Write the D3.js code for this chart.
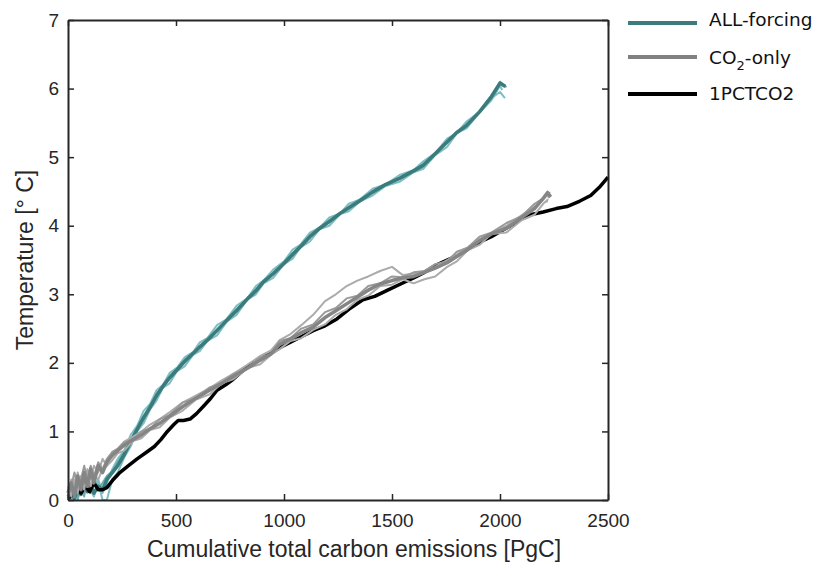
<!DOCTYPE html>
<html>
<head>
<meta charset="utf-8">
<script src="https://cdn.jsdelivr.net/npm/d3@7"></script>
<style>
  body { margin: 0; background: #fff; }
  text { font-family: "Liberation Sans", Arial, sans-serif; fill: #262626; }
  .legend text { font-family: "DejaVu Sans", sans-serif; fill: #111; }
</style>
</head>
<body>
<svg id="chart" width="817" height="563"></svg>
<script>
// ---- data ----
var xTicks = [0, 500, 1000, 1500, 2000, 2500];
var yTicks = [0, 1, 2, 3, 4, 5, 6, 7];

// ALL-forcing ensemble (cumulative emissions grid, PgC)
var allX = [0,15,30,45,60,75,90,105,120,140,160,180,205,230,260,290,320,350,380,410,440,470,505,540,580,610,645,690,735,780,830,870,905,950,1000,1040,1075,1120,1165,1210,1260,1300,1350,1410,1470,1535,1600,1645,1700,1755,1800,1845,1905,1960,2000];
var allMain = [0.05,0.12,0.02,0.18,0.08,0.25,0.12,0.22,0.1,0.2,0.15,0.3,0.4,0.5,0.66,0.85,1.03,1.2,1.35,1.52,1.66,1.78,1.9,2.02,2.14,2.23,2.33,2.47,2.62,2.76,2.93,3.05,3.18,3.3,3.45,3.58,3.69,3.84,3.96,4.06,4.18,4.26,4.36,4.49,4.6,4.69,4.8,4.88,5.05,5.22,5.36,5.46,5.66,5.88,6.08];
var allA = [0.0,0.2,0.1,0.3,0.15,0.35,0.2,0.4,0.2,0.3,0.1,0.25,0.45,0.6,0.72,0.95,1.08,1.3,1.4,1.6,1.68,1.85,1.93,2.08,2.16,2.3,2.36,2.55,2.64,2.83,2.94,3.12,3.2,3.36,3.48,3.65,3.72,3.9,3.97,4.12,4.18,4.32,4.38,4.54,4.6,4.74,4.81,4.94,5.06,5.27,5.35,5.52,5.66,5.86,5.95];
var allB = [0.1,0.0,0.15,0.05,0.28,0.1,0.3,0.15,0.05,0.25,0.0,0.0,0.3,0.4,0.62,0.78,1.0,1.12,1.32,1.45,1.64,1.7,1.88,1.95,2.12,2.17,2.32,2.4,2.6,2.7,2.92,3.0,3.16,3.24,3.44,3.52,3.68,3.77,3.95,4.0,4.17,4.21,4.35,4.44,4.58,4.64,4.78,4.83,5.03,5.15,5.35,5.42,5.65,5.83,6.04];
var allC = [0.0,0.08,0.22,0.0,0.2,0.05,0.35,0.1,0.3,0.15,0.25,0.35,0.42,0.55,0.7,0.88,1.05,1.22,1.38,1.55,1.68,1.8,1.92,2.04,2.15,2.25,2.35,2.49,2.63,2.78,2.94,3.07,3.2,3.31,3.47,3.6,3.71,3.86,3.98,4.08,4.19,4.28,4.38,4.5,4.61,4.7,4.81,4.9,5.06,5.23,5.37,5.48,5.67,5.9,6.1];
// last (hooked) point of each run: main, A, B, C
var allEndX = [2025, 2023, 2010, 2030];
var allEndT = [6.03, 5.86, 5.98, 6.02];

// CO2-only ensemble
var co2X = [0,15,30,45,60,75,90,105,120,140,160,180,205,230,260,300,340,380,425,470,530,590,655,710,765,830,890,940,980,1030,1080,1135,1190,1240,1290,1340,1390,1445,1500,1550,1600,1650,1700,1755,1800,1850,1905,1960,2030,2100,2160,2200,2220];
var co2Main = [0.1,0.25,0.05,0.35,0.15,0.4,0.2,0.45,0.25,0.5,0.4,0.55,0.65,0.72,0.8,0.88,0.95,1.04,1.12,1.22,1.36,1.48,1.6,1.7,1.8,1.92,2.04,2.13,2.27,2.35,2.44,2.52,2.66,2.76,2.86,2.96,3.06,3.15,3.2,3.24,3.26,3.32,3.38,3.46,3.55,3.65,3.78,3.88,3.96,4.12,4.25,4.4,4.48];
var co2A = [0.0,0.3,0.1,0.4,0.2,0.3,0.45,0.3,0.5,0.4,0.6,0.5,0.7,0.75,0.85,0.92,1.0,1.1,1.18,1.28,1.42,1.52,1.63,1.74,1.84,1.97,2.1,2.18,2.33,2.42,2.55,2.7,2.9,3.0,3.12,3.2,3.26,3.34,3.4,3.28,3.3,3.33,3.4,3.5,3.58,3.68,3.8,3.9,4.0,4.15,4.28,4.38,4.45];
var co2B = [0.2,0.05,0.3,0.1,0.35,0.15,0.4,0.2,0.35,0.3,0.45,0.5,0.58,0.68,0.72,0.86,0.9,1.02,1.06,1.2,1.3,1.46,1.54,1.7,1.76,1.92,1.98,2.12,2.2,2.32,2.36,2.48,2.56,2.7,2.78,2.92,2.98,3.12,3.14,3.22,3.16,3.22,3.26,3.4,3.48,3.64,3.72,3.88,3.9,4.08,4.16,4.32,4.38];
var co2C = [0.05,0.2,0.4,0.2,0.3,0.5,0.3,0.5,0.35,0.55,0.45,0.6,0.7,0.74,0.84,0.88,1.0,1.04,1.18,1.24,1.42,1.48,1.64,1.7,1.84,1.92,2.08,2.13,2.32,2.36,2.5,2.56,2.74,2.8,2.94,2.98,3.12,3.16,3.26,3.25,3.32,3.34,3.44,3.48,3.62,3.68,3.84,3.9,4.04,4.14,4.32,4.4,4.5];
var co2EndX = [2235, 2228, 2215, 2232];
var co2EndT = [4.42, 4.4, 4.34, 4.47];

// 1PCTCO2 run
var pctX = [0,20,40,60,80,100,120,140,160,180,210,240,280,320,365,400,430,460,490,510,535,565,595,625,660,690,730,765,800,830,860,890,930,980,1030,1080,1135,1190,1245,1300,1365,1420,1480,1540,1600,1650,1700,1755,1800,1850,1905,1960,2010,2060,2100,2140,2200,2260,2310,2370,2420,2460,2500];
var pctT = [0.02,0.08,0.15,0.1,0.2,0.12,0.25,0.15,0.15,0.18,0.3,0.4,0.5,0.6,0.7,0.78,0.88,1.0,1.1,1.16,1.16,1.18,1.26,1.36,1.48,1.6,1.68,1.76,1.86,1.94,2.0,2.08,2.12,2.22,2.3,2.38,2.47,2.54,2.64,2.78,2.92,2.97,3.06,3.15,3.24,3.32,3.42,3.5,3.56,3.66,3.76,3.84,3.93,4.02,4.1,4.16,4.2,4.25,4.28,4.36,4.44,4.56,4.71];

// ---- layout ----
var margin = {top: 20, right: 209, bottom: 63, left: 68},
    width = 817 - margin.left - margin.right,
    height = 563 - margin.top - margin.bottom;

var svg = d3.select("#chart")
    .append("g")
    .attr("transform", "translate(" + margin.left + "," + margin.top + ")");

var x = d3.scaleLinear().domain([0, 2500]).range([0, width]);
var y = d3.scaleLinear().domain([0, 7]).range([height, 0]);

var line = d3.line()
    .x(function(d) { return x(d[0]); })
    .y(function(d) { return y(d[1]); });

function run(xs, ts, endX, endT) {
    var pts = xs.map(function(v, i) { return [v, ts[i]]; });
    if (endX != null) pts.push([endX, endT]);
    return pts;
}

function draw(pts, color, w, op) {
    svg.append("path")
        .datum(pts)
        .attr("fill", "none")
        .attr("stroke", color)
        .attr("stroke-width", w)
        .attr("stroke-opacity", op)
        .attr("stroke-linejoin", "round")
        .attr("d", line);
}

var teal = "#3b7b7c", tealLight = "#6fb8bc";
var grey = "#858585", greyLight = "#ababab";

// ALL-forcing
draw(run(allX, allA, allEndX[1], allEndT[1]), tealLight, 2, 0.9);
draw(run(allX, allB, allEndX[2], allEndT[2]), tealLight, 2, 0.9);
draw(run(allX, allC, allEndX[3], allEndT[3]), "#5ea4a8", 2, 0.9);
draw(run(allX, allMain, allEndX[0], allEndT[0]), teal, 3.5, 1);

// 1PCTCO2
draw(run(pctX, pctT), "#000", 3.5, 1);

// CO2-only
draw(run(co2X, co2A, co2EndX[1], co2EndT[1]), greyLight, 2, 1);
draw(run(co2X, co2B, co2EndX[2], co2EndT[2]), greyLight, 2, 1);
draw(run(co2X, co2C, co2EndX[3], co2EndT[3]), "#9a9a9a", 2, 1);
draw(run(co2X, co2Main, co2EndX[0], co2EndT[0]), grey, 3.5, 1);

// ---- axes (MATLAB style box, ticks inward) ----
var axisColor = "#262626";
var fmt = d3.format("d");
var gx = svg.append("g")
    .attr("transform", "translate(0," + height + ")")
    .call(d3.axisBottom(x).tickValues(xTicks).tickFormat(fmt).tickSize(-6).tickSizeOuter(0).tickPadding(14));
var gy = svg.append("g")
    .call(d3.axisLeft(y).tickValues(yTicks).tickFormat(fmt).tickSize(-6).tickSizeOuter(0).tickPadding(9));
var gt = svg.append("g")
    .call(d3.axisTop(x).tickValues(xTicks).tickSize(-6).tickSizeOuter(0).tickFormat(""));
var gr = svg.append("g")
    .attr("transform", "translate(" + width + ",0)")
    .call(d3.axisRight(y).tickValues(yTicks).tickSize(-6).tickSizeOuter(0).tickFormat(""));

[gx, gy, gt, gr].forEach(function(g) {
    g.select(".domain").attr("stroke", axisColor).attr("stroke-width", 2);
    g.selectAll(".tick line").attr("stroke", axisColor).attr("stroke-width", 1.5);
    g.selectAll(".tick text")
        .attr("fill", axisColor)
        .style("font-size", "19px")
        .style("font-family", "'Liberation Sans', Arial, sans-serif");
});

svg.append("text")
    .attr("x", 286)
    .attr("y", 537)
    .attr("text-anchor", "middle")
    .style("font-size", "23px")
    .text("Cumulative total carbon emissions [PgC]");

svg.append("text")
    .attr("transform", "translate(-35," + (height / 2) + ") rotate(-90)")
    .attr("text-anchor", "middle")
    .style("font-size", "23px")
    .text("Temperature [\u00B0 C]");

// ---- legend ----
var legendNames = ["ALL-forcing", "CO2-only", "1PCTCO2"];
var legendColors = [teal, "#808080", "#000"];
var legend = d3.select("#chart").append("g").attr("class", "legend");
var lineY = [23, 57, 94], textY = [26, 64, 100];

legendNames.forEach(function(name, i) {
    legend.append("line")
        .attr("x1", 628).attr("x2", 697)
        .attr("y1", lineY[i]).attr("y2", lineY[i])
        .attr("stroke", legendColors[i])
        .attr("stroke-width", 4);
    var t = legend.append("text")
        .attr("x", 709)
        .attr("y", textY[i])
        .style("font-size", "18.5px");
    if (name == "CO2-only") {
        t.append("tspan").text("CO");
        t.append("tspan").attr("dy", 6).style("font-size", "13px").text("2");
        t.append("tspan").attr("dy", -6).text("-only");
    } else {
        t.text(name);
    }
});
</script>
</body>
</html>
